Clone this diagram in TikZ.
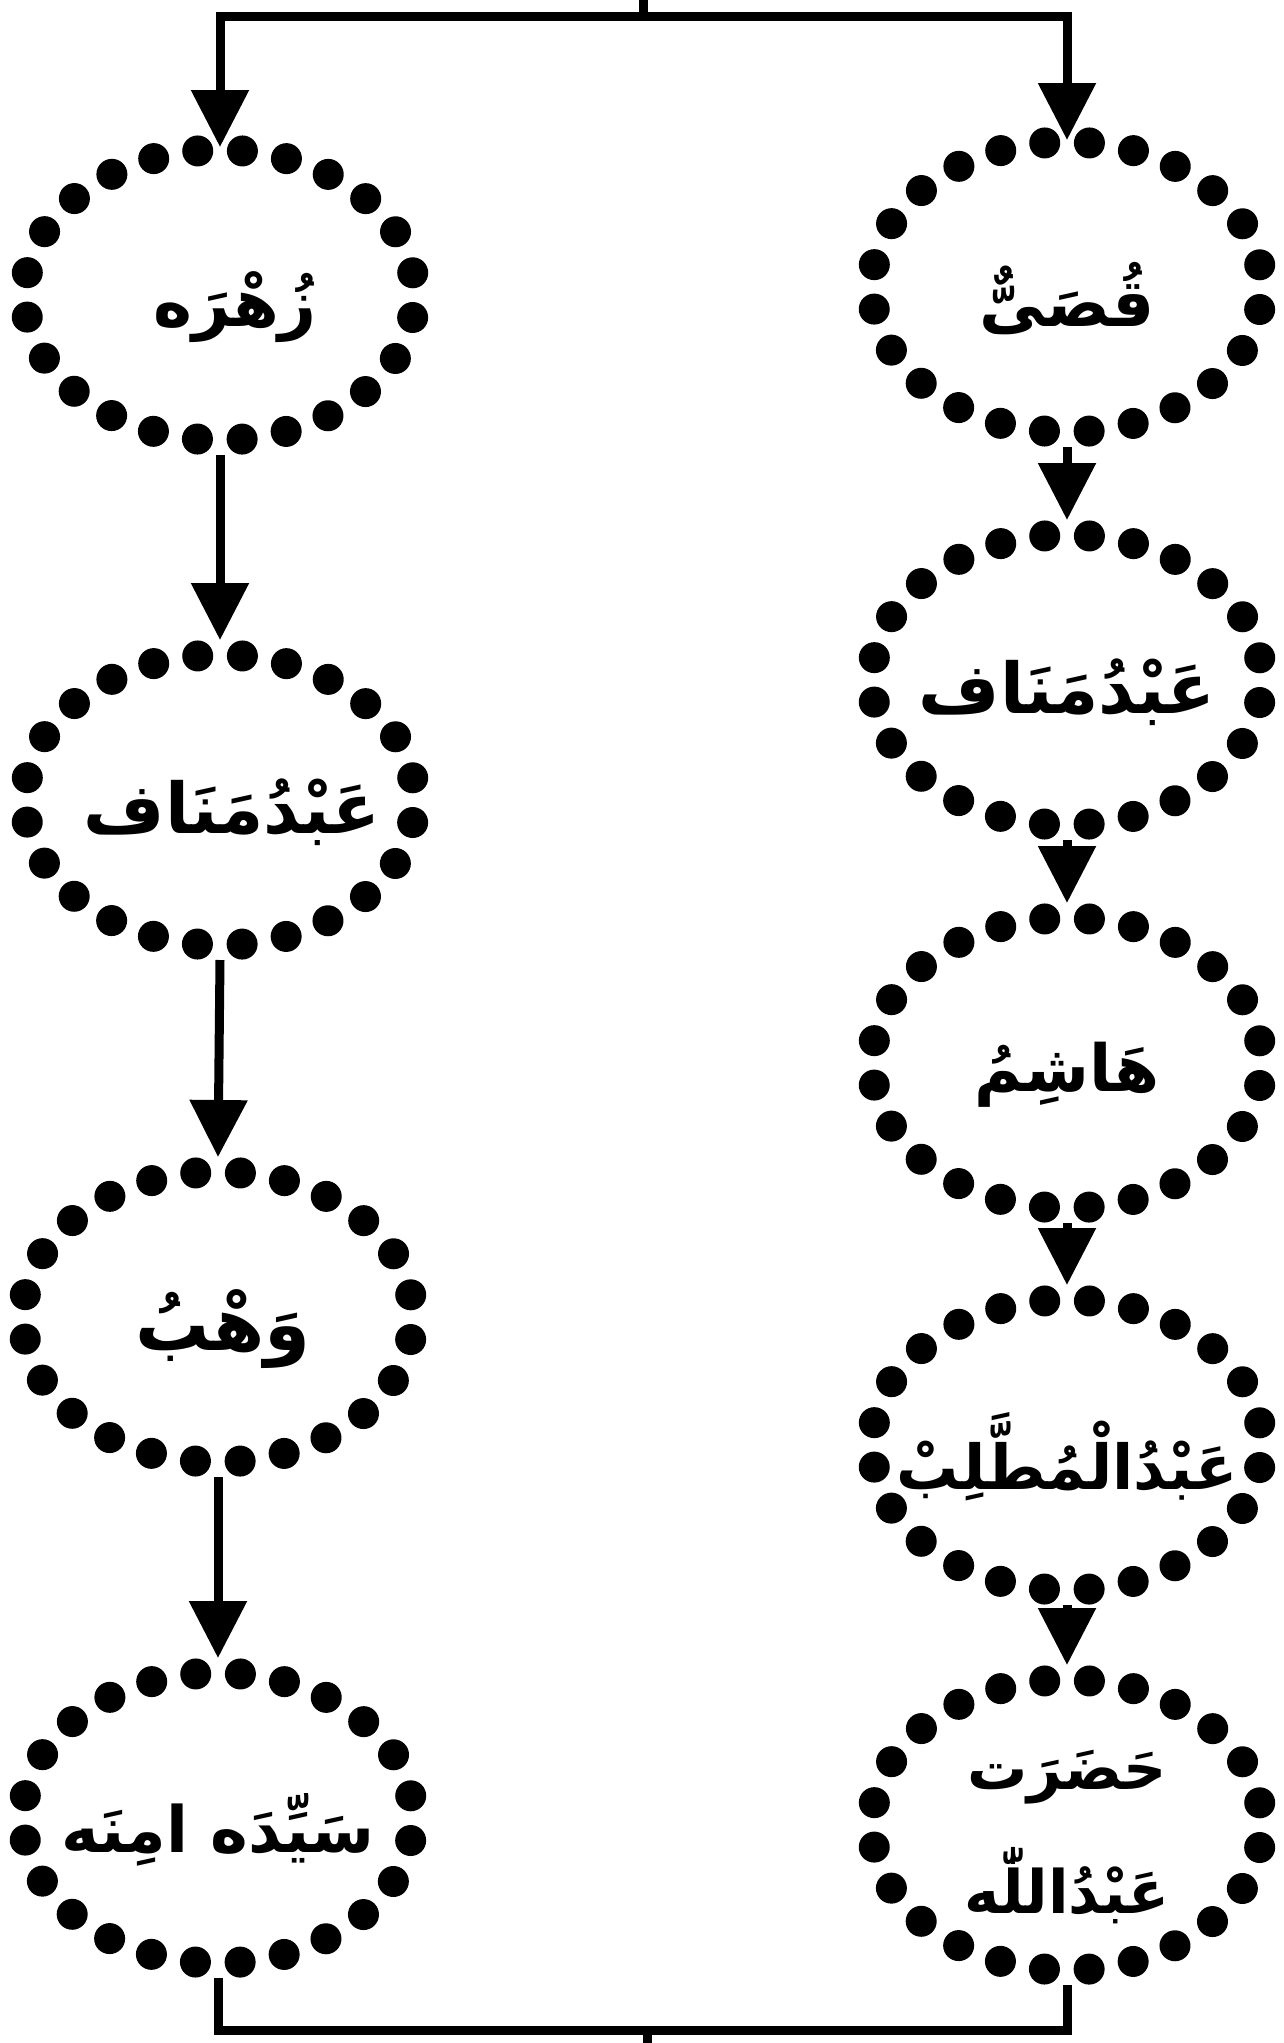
\documentclass[tikz,border=0pt]{standalone}
\usepackage{fontspec}
\newfontfamily\arabicfont[Script=Arabic]{DejaVu Sans}
\TeXXeTstate=1
\usetikzlibrary{shapes.geometric,arrows.meta}
\begin{document}
\begin{tikzpicture}[x=1pt,y=-1pt,
  dotell/.style={ellipse, draw, line width=31pt, dash pattern=on 0pt off 44.74pt,
    dash phase=22.37pt, line cap=round, minimum width=390pt, minimum height=290pt,
    inner sep=0pt, outer sep=15pt},
  lab/.style={font=\arabicfont\bfseries\fontsize{#1}{124}\selectfont, inner sep=0pt,
    align=center, yshift=-12pt},
  lab/.default=70,
  conn/.style={line width=9pt},
  arr/.style={conn, -{Triangle[width=56pt,length=57pt]}},
]
\useasboundingbox (0,0) rectangle (1284,2043);
% left column
\node[dotell] (l1) at (220,295) {};
\node[dotell] (l2) at (220,800) {};
\node[dotell] (l3) at (218,1317) {};
\node[dotell] (l4) at (218,1818) {};
% right column
\node[dotell] (r1) at (1067,287) {};
\node[dotell] (r2) at (1067,680) {};
\node[dotell] (r3) at (1067,1063) {};
\node[dotell] (r4) at (1067,1445) {};
\node[dotell] (r5) at (1067,1825) {};
% labels
\node[lab=66, xshift=15pt] (l1t) at (l1) {\beginR زُهْرَه\endR};
\node[lab=70, xshift=12pt] (l2t) at (l2) {\beginR عَبْدُمَنَاف\endR};
\node[lab=74, xshift=5pt] (l3t) at (l3) {\beginR وَهْبُ\endR};
\node[lab=64] (l4t) at (l4) {\beginR سَیِّدَه امِنَه\endR};
\node[lab=66] (r1t) at (r1) {\beginR قُصَیٌّ\endR};
\node[lab=70] (r2t) at (r2) {\beginR عَبْدُمَنَاف\endR};
\node[lab=65] (r3t) at (r3) {\beginR هَاشِمُ\endR};
\node[lab=62] (r4t) at (r4) {\beginR عَبْدُالْمُطَّلِبْ\endR};
\node[lab=60] (r5t) at (r5) {\beginR حَضَرَت\endR\\\beginR عَبْدُاللّٰه\endR};
% top connector
\coordinate (top) at (643,0);
\coordinate (tj) at (643,16);
\draw[conn] (top) -- (tj);
\draw[arr, shorten >=-12pt] (tj) -| (l1.north);
\draw[arr, shorten >=-13pt] (tj) -| (r1.north);
% column arrows
\draw[arr] (l1.south) -- (l2.north);
\draw[arr] (l2.south) -- (l3.north);
\draw[arr] (l3.south) -- (l4.north);
\draw[arr] (r1.south) -- (r2.north);
\draw[arr] (r2.south) -- (r3.north);
\draw[arr] (r3.south) -- (r4.north);
\draw[arr] (r4.south) -- (r5.north);
% bottom connector
\coordinate (bj) at (647,2030);
\coordinate (bot) at (647,2043);
\draw[conn] (l4.south) |- (bj) -| (r5.south);
\draw[conn] (bj) -- (bot);
\end{tikzpicture}
\end{document}
